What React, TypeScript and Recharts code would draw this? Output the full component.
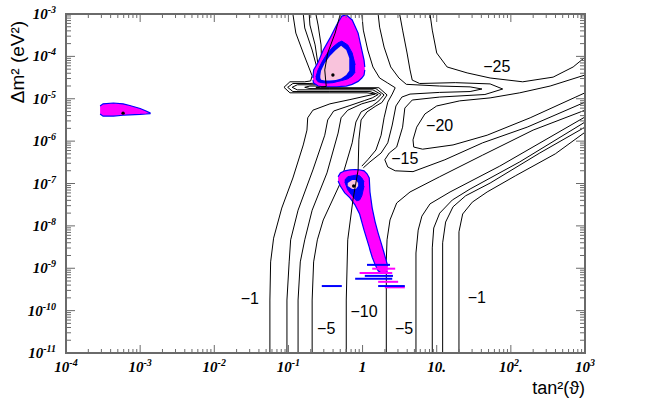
import {
  ComposedChart, XAxis, YAxis, Line, Area, Scatter,
  ReferenceArea, ReferenceDot,
} from 'recharts'

const W = 654
const H = 398
const PLOT_W = 519
const PLOT_H = 339
const AXIS = '#6a6a6a'
const MAGENTA = '#ff00ff'
const BLUE = '#0000ff'
const PINK = '#f9c3dc'
const SERIF = "'Liberation Serif', 'DejaVu Serif', serif"
const SANS = "'Liberation Sans', 'DejaVu Sans', Arial, sans-serif"

// contour lines, points are [log10 tan^2(theta), log10 dm^2]
const level1Left = [
  [-1.25, -11], [-1.25, -9.75], [-1.24, -8.85], [-1.2, -8.29], [-1.09, -7.58], [-0.94, -6.87],
  [-0.8, -6.09], [-0.75, -5.74], [-0.74, -5.45], [-0.67, -5.27], [-0.44, -5.12], [-0.17, -5.02],
  [0.06, -4.93], [0.17, -4.89], [0.06, -4.86], [-0.44, -4.86], [-0.98, -4.86], [-1.06, -4.73],
  [-0.98, -4.6], [-0.78, -4.6], [-0.7, -4.58], [-0.68, -4.46], [-0.8, -3.92], [-0.9, -3.45], [-0.94, -3],
]
const level2Left = [
  [-1.02, -11], [-1.02, -9.75], [-0.99, -8.85], [-0.97, -8.33], [-0.87, -7.63], [-0.67, -6.68],
  [-0.51, -5.86], [-0.47, -5.5], [-0.39, -5.29], [-0.17, -5.16], [0.03, -5.04], [0.13, -4.98],
  [0.21, -4.9], [0.1, -4.83], [-0.44, -4.83], [-0.94, -4.83], [-1.01, -4.73], [-0.94, -4.64],
  [-0.71, -4.64], [-0.64, -4.63], [-0.6, -4.37], [-0.68, -3.85], [-0.78, -3.33], [-0.8, -3],
]
const level3Left = [
  [-0.87, -11], [-0.87, -9.75], [-0.84, -8.85], [-0.78, -8.33], [-0.68, -7.63], [-0.48, -6.75],
  [-0.33, -5.81], [-0.29, -5.45], [-0.2, -5.27], [-0.01, -5.12], [0.17, -5.03], [0.25, -4.9],
  [0.14, -4.79], [-0.44, -4.79], [-0.88, -4.79], [-0.95, -4.73], [-0.88, -4.67], [-0.64, -4.67],
  [-0.57, -4.65], [-0.59, -4.32], [-0.64, -3.73], [-0.71, -3.26], [-0.72, -3],
]
const level5Left = [
  [-0.68, -11], [-0.68, -9.75], [-0.66, -8.85], [-0.61, -8.33], [-0.53, -7.86], [-0.3, -6.99],
  [-0.14, -6.04], [-0.09, -5.55], [-0.02, -5.31], [0.13, -5.17], [0.22, -5.05], [0.29, -4.91],
  [0.18, -4.76], [-0.44, -4.76], [-0.71, -4.76], [-0.78, -4.73], [-0.71, -4.7], [-0.6, -4.7],
  [-0.52, -4.69], [-0.55, -4.32], [-0.56, -3.73], [-0.6, -3.26], [-0.63, -3],
]
const level10Left = [
  [-0.22, -11], [-0.22, -9.75], [-0.2, -8.33], [-0.13, -7.39], [-0.06, -6.68], [-0.05, -5.97],
  [-0.02, -5.5], [0.06, -5.31], [0.18, -5.17], [0.26, -5.09], [0.33, -4.91], [0.22, -4.74],
  [-0.44, -4.74], [-0.57, -4.74], [-0.63, -4.73], [-0.57, -4.72], [-0.49, -4.71], [-0.51, -4.32],
  [-0.47, -3.92], [-0.37, -3.45], [-0.3, -3],
]
const ridgeA = [
  [-0.01, -3], [0.01, -3.38], [0.07, -3.85], [0.14, -4.25], [0.23, -4.51], [0.34, -4.63], [0.44, -4.74],
  [0.4, -4.89], [0.34, -5.08], [0.29, -5.45], [0.25, -5.86], [0.18, -6.21], [0.07, -6.44], [-0.01, -6.59],
]
const ridgeB = [
  [0.21, -3], [0.23, -3.31], [0.29, -3.78], [0.38, -4.25], [0.49, -4.51], [0.59, -4.66], [1.04, -4.7],
  [1.45, -4.72], [1.61, -4.77], [1.45, -4.83], [1.04, -4.85], [0.64, -4.89], [0.53, -4.96], [0.45, -5.17],
  [0.4, -5.62], [0.34, -6.04], [0.25, -6.28], [0.1, -6.49], [0.01, -6.63],
]
const level15 = [
  [0.5, -3], [0.54, -3.38], [0.6, -3.92], [0.64, -4.32], [0.67, -4.56], [0.77, -4.64], [1.25, -4.62],
  [1.72, -4.65], [1.89, -4.77], [1.65, -4.9], [1.04, -4.96], [0.67, -5.03], [0.57, -5.22], [0.54, -5.67],
  [0.46, -6.14], [0.36, -6.28], [0.3, -6.44], [0.34, -6.61], [0.44, -6.7], [0.68, -6.72], [1.11, -6.44],
  [1.62, -6.04], [2.22, -5.67], [3, -5.08],
]
const level20 = [
  [3, -4.44], [2.53, -4.7], [2.12, -4.86], [1.72, -4.98], [1.31, -5.05], [1.0, -5.17], [0.84, -5.36],
  [0.73, -5.67], [0.68, -5.97], [0.69, -6.14], [0.81, -6.19], [1.22, -6.09], [1.68, -5.86], [2.26, -5.45],
  [3, -4.86],
]
const level25 = [
  [0.91, -3], [0.94, -3.38], [1.0, -3.92], [1.14, -4.25], [1.41, -4.39], [1.72, -4.51], [2.16, -4.6],
  [2.57, -4.49], [2.84, -4.25], [3, -4.02],
]
const level10Right = [
  [0.32, -11], [0.32, -8.81], [0.33, -8.33], [0.37, -7.86], [0.46, -7.46], [0.64, -7.2], [1.04, -6.84],
  [1.62, -6.33], [2.3, -5.74], [3, -5.27],
]
const level5Right = [
  [0.72, -11], [0.72, -8.64], [0.75, -8.1], [0.8, -7.77], [0.91, -7.48], [1.18, -7.2], [1.85, -6.59], [3, -5.43],
]
const level3Right = [
  [0.94, -11], [0.94, -8.52], [0.96, -8.05], [1.04, -7.7], [1.21, -7.39], [1.45, -7.13], [2.12, -6.49], [3, -5.55],
]
const level2Right = [
  [1.08, -11], [1.08, -8.4], [1.12, -7.91], [1.22, -7.55], [1.39, -7.29], [1.72, -6.99], [2.39, -6.28], [3, -5.67],
]
const level1Right = [
  [1.3, -11], [1.3, -8.14], [1.35, -7.72], [1.48, -7.44], [1.68, -7.2], [2.06, -6.82], [2.6, -6.3], [3, -5.79],
]

// allowed regions: [x, lower, upper]
const lowOuter = [
  [-0.67, -4.56, -4.51], [-0.66, -4.63, -4.32], [-0.6, -4.7, -4.14], [-0.53, -4.72, -3.85], [-0.44, -4.72, -3.57],
  [-0.35, -4.72, -3.26], [-0.28, -4.71, -3.05], [-0.22, -4.7, -3.02], [-0.14, -4.66, -3.14], [-0.06, -4.59, -3.45],
  [-0.01, -4.51, -3.85], [0.02, -4.44, -4.09], [0.03, -4.32, -4.25],
]
const lowRing = [
  [-0.63, -4.53, -4.49], [-0.6, -4.6, -4.32], [-0.55, -4.62, -4.14], [-0.48, -4.63, -3.94], [-0.4, -4.62, -3.78],
  [-0.33, -4.59, -3.68], [-0.28, -4.57, -3.64], [-0.2, -4.53, -3.73], [-0.14, -4.46, -3.92], [-0.1, -4.37, -4.2],
]
const lowCore = [
  [-0.57, -4.51, -4.46], [-0.56, -4.55, -4.34], [-0.51, -4.57, -4.16], [-0.44, -4.57, -3.99], [-0.36, -4.56, -3.85],
  [-0.29, -4.52, -3.75], [-0.22, -4.44, -3.85], [-0.18, -4.34, -4.04],
]
const smaOuter = [
  [-3.54, -5.36, -5.17], [-3.5, -5.41, -5.12], [-3.36, -5.41, -5.1], [-3.23, -5.39, -5.12], [-3.14, -5.38, -5.16],
  [-3.0, -5.37, -5.23], [-2.92, -5.36, -5.29], [-2.86, -5.35, -5.34],
]
const lmaOuter = [
  [-0.33, -6.94, -6.84], [-0.3, -7.06, -6.75], [-0.24, -7.22, -6.7], [-0.17, -7.34, -6.68], [-0.1, -7.51, -6.67],
  [-0.04, -7.72, -6.68], [0.02, -8.1, -6.7], [0.06, -8.33, -6.77], [0.09, -8.5, -6.87], [0.1, -8.57, -7.2],
  [0.13, -8.74, -7.58], [0.17, -8.92, -7.91], [0.21, -9.06, -8.17], [0.25, -9.11, -8.4], [0.29, -9.11, -8.64],
  [0.34, -9.09, -8.95],
]
const lmaRing = [
  [-0.24, -6.96, -6.92], [-0.2, -7.15, -6.84], [-0.14, -7.29, -6.82], [-0.08, -7.41, -6.8], [-0.04, -7.39, -6.82],
  [-0.01, -7.29, -6.87], [0.02, -7.06, -6.96],
]
const lmaCore = [
  [-0.2, -7.06, -6.99], [-0.14, -7.13, -6.92], [-0.09, -7.13, -6.92], [-0.06, -7.06, -6.99],
]
// ragged strokes at the foot of the LMA region: [y, x1, x2]
const hatchBlue = [
  [-8.92, 0.06, 0.37], [-9.18, 0.03, 0.41], [-9.25, -0.1, 0.4], [-9.42, -0.55, -0.28], [-9.42, 0.21, 0.57],
]
const hatchMagenta = [
  [-9.01, 0.13, 0.44], [-9.11, -0.04, 0.4], [-9.32, 0.21, 0.48], [-9.45, 0.3, 0.57],
]
const bestFits = [[-0.4, -4.44], [-3.23, -5.34], [-0.12, -7.06]]

const contourLabels: [string, number, number][] = [
  ['\u22121', -1.52, -9.7], ['\u22125', -0.49, -10.43], ['\u221210', 0.02, -10.01], ['\u22125', 0.56, -10.43],
  ['\u22121', 1.54, -9.68], ['\u221215', 0.57, -6.4], ['\u221220', 1.04, -5.64], ['\u221225', 1.81, -4.23],
]

const xTickLabels: Record<number, string[]> = {
  [-4]: ['10', '-4'], [-3]: ['10', '-3'], [-2]: ['10', '-2'], [-1]: ['10', '-1'],
  0: ['1'], 1: ['10.'], 2: ['10', '2', '.'], 3: ['10', '3'],
}
const yDecades = [-11, -10, -9, -8, -7, -6, -5, -4, -3]
const xDecades = [-4, -3, -2, -1, 0, 1, 2, 3]

const withMinor = (decades: number[]) => {
  const out: number[] = []
  decades.forEach((d, i) => {
    out.push(d)
    if (i < decades.length - 1) for (let m = 2; m <= 9; m++) out.push(d + Math.log10(m))
  })
  return out
}
const xTicks = withMinor(xDecades)
const yTicks = withMinor(yDecades)

const toPts = (a: number[][]) => a.map(([x, y]) => ({ x, y }))
const toBand = (a: number[][]) => a.map(([x, lo, hi]) => ({ x, r: [lo, hi] }))
const toHatch = (h: number[]) => [{ x: h[1], y: h[0] }, { x: h[2], y: h[0] }]
const isMajor = (v: number) => Math.abs(v - Math.round(v)) < 1e-6

function PowText({ x, y, parts, anchor }: { x: number; y: number; parts: string[]; anchor: string }) {
  return (
    <text x={x} y={y} textAnchor={anchor as any} fontFamily={SERIF} fontWeight="bold"
      fontStyle="italic" fontSize={15} fill="#000">
      {parts[0]}
      {parts[1] && <tspan dy={-6} fontSize={10}>{parts[1]}</tspan>}
      {parts[2] && <tspan dy={6}>{parts[2]}</tspan>}
    </text>
  )
}

function XTick({ x, y, payload }: any) {
  const v = payload.value
  const major = isMajor(v)
  const len = major ? 8 : 4
  return (
    <g>
      <line x1={x} x2={x} y1={y} y2={y - len} stroke={AXIS} />
      <line x1={x} x2={x} y1={y - PLOT_H} y2={y - PLOT_H + len} stroke={AXIS} />
      {major && <PowText x={x} y={y + 19} anchor="middle" parts={xTickLabels[Math.round(v)]} />}
    </g>
  )
}

function YTick({ x, y, payload }: any) {
  const v = payload.value
  const major = isMajor(v)
  const len = major ? 9 : 5
  return (
    <g>
      <line x1={x} x2={x + len} y1={y} y2={y} stroke={AXIS} />
      <line x1={x + PLOT_W} x2={x + PLOT_W - len} y1={y} y2={y} stroke={AXIS} />
      {major && <PowText x={x - 10} y={y + 5} anchor="end" parts={['10', String(Math.round(v))]} />}
    </g>
  )
}

const lineProps = {
  dataKey: 'y', type: 'linear' as const, stroke: '#000', strokeWidth: 1,
  dot: false, activeDot: false, isAnimationActive: false,
}

const backLines = [
  level1Left, level2Left, level3Left, level5Left, ridgeA, ridgeB, level15, level20, level25,
  level10Right, level5Right, level3Right, level2Right, level1Right,
]

export default function App() {
  return (
    <div style={{ position: 'absolute', left: 0, top: 0, background: '#fff' }}>
      <ComposedChart width={W} height={H} margin={{ top: 14, right: 69, bottom: 0, left: 0 }}>
        <XAxis
          type="number" dataKey="x" domain={[-4, 3]} allowDataOverflow ticks={xTicks} interval={0}
          height={45} tickSize={0} tickMargin={0} axisLine={false} tickLine={false} tick={<XTick />}
          label={{
            content: () => (
              <text x={585} y={394} textAnchor="end" fontFamily={SANS} fontSize={18} fill="#000">
                tan²(ϑ)
              </text>
            ),
          }}
        />
        <YAxis
          type="number" dataKey="y" domain={[-11, -3]} allowDataOverflow ticks={yTicks} interval={0}
          width={66} tickSize={0} tickMargin={0} axisLine={false} tickLine={false} tick={<YTick />}
          label={{
            content: () => (
              <text transform="translate(24,62) rotate(-90)" textAnchor="middle" fontFamily={SANS}
                fontSize={19} fill="#000">
                Δm² (eV²)
              </text>
            ),
          }}
        />

        {backLines.map((c, i) => (
          <Line key={'c' + i} data={toPts(c)} {...lineProps} zIndex={400} />
        ))}

        <Area data={toBand(smaOuter)} dataKey="r" type="linear" fill={MAGENTA} fillOpacity={1}
          stroke={BLUE} strokeWidth={1.2} dot={false} activeDot={false} isAnimationActive={false} zIndex={450} />
        <Area data={toBand(lowOuter)} dataKey="r" type="linear" fill={MAGENTA} fillOpacity={1}
          stroke={BLUE} strokeWidth={1.2} dot={false} activeDot={false} isAnimationActive={false} zIndex={450} />
        <Area data={toBand(lowRing)} dataKey="r" type="linear" fill={BLUE} fillOpacity={1}
          stroke={BLUE} strokeWidth={1} dot={false} activeDot={false} isAnimationActive={false} zIndex={450} />
        <Area data={toBand(lowCore)} dataKey="r" type="linear" fill={PINK} fillOpacity={1}
          stroke="none" dot={false} activeDot={false} isAnimationActive={false} zIndex={450} />
        <Area data={toBand(lmaOuter)} dataKey="r" type="linear" fill={MAGENTA} fillOpacity={1}
          stroke={BLUE} strokeWidth={1.2} dot={false} activeDot={false} isAnimationActive={false} zIndex={450} />
        <Area data={toBand(lmaRing)} dataKey="r" type="linear" fill={BLUE} fillOpacity={1}
          stroke={BLUE} strokeWidth={1} dot={false} activeDot={false} isAnimationActive={false} zIndex={450} />
        <Area data={toBand(lmaCore)} dataKey="r" type="linear" fill={PINK} fillOpacity={1}
          stroke="none" dot={false} activeDot={false} isAnimationActive={false} zIndex={450} />

        {hatchMagenta.map((h, i) => (
          <Line key={'hm' + i} data={toHatch(h)} {...lineProps} stroke={MAGENTA} strokeWidth={2} zIndex={460} />
        ))}
        {hatchBlue.map((h, i) => (
          <Line key={'hb' + i} data={toHatch(h)} {...lineProps} stroke={BLUE} strokeWidth={2} zIndex={460} />
        ))}

        <Line data={toPts(level10Left)} {...lineProps} zIndex={470} />

        <Scatter data={toPts(bestFits)} isAnimationActive={false} zIndex={600}
          shape={(p: any) => <circle cx={p.cx} cy={p.cy} r={1.7} fill="#000" />} />

        {contourLabels.map(([t, x, y], i) => (
          <ReferenceDot key={'l' + i} x={x} y={y} r={0} zIndex={650}
            shape={(p: any) => (
              <text x={p.cx} y={p.cy} dy="0.35em" textAnchor="middle" fontFamily={SANS}
                fontSize={16} fill="#000">
                {t}
              </text>
            )} />
        ))}

        <ReferenceArea x1={-4} x2={3} y1={-11} y2={-3} fill="none" stroke={AXIS} strokeWidth={2}
          fillOpacity={0} zIndex={700} />
      </ComposedChart>
    </div>
  )
}
